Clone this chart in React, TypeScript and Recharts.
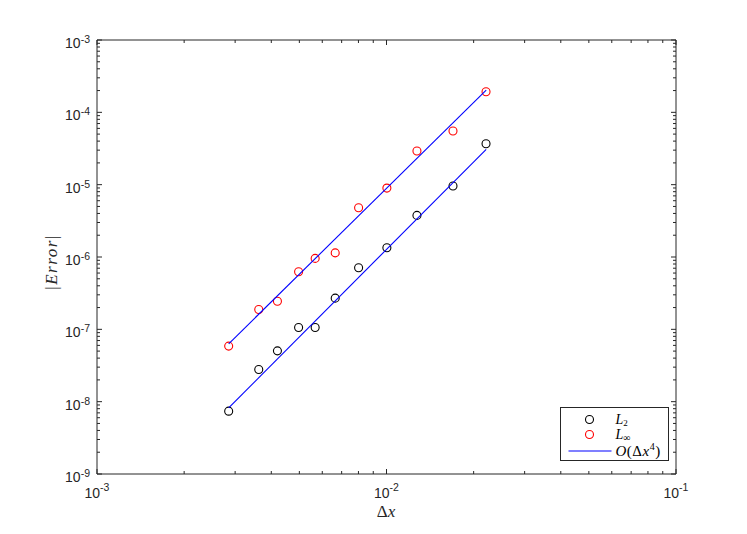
import { ScatterChart, Scatter, XAxis, YAxis } from 'recharts'

document.body.style.margin = '0'

// grid spacing and measured errors
const dx = [0.00285, 0.00362, 0.0042, 0.00497, 0.00567, 0.00665, 0.00801, 0.01003, 0.01274, 0.01697, 0.02207]
const errL2 = [7.39e-9, 2.79e-8, 5.04e-8, 1.06e-7, 1.06e-7, 2.7e-7, 7.09e-7, 1.34e-6, 3.76e-6, 9.57e-6, 3.68e-5]
const errLinf = [5.86e-8, 1.88e-7, 2.45e-7, 6.24e-7, 9.57e-7, 1.14e-6, 4.79e-6, 8.97e-6, 2.92e-5, 5.51e-5, 1.93e-4]

// O(dx^4) reference lines, end points
const fitDx = [0.00285, 0.0221]
const fitL2 = [8.2e-9, 3.08e-5]
const fitLinf = [6.3e-8, 2.03e-4]

const xMajor = [1e-3, 1e-2, 1e-1]
const xMajorLabels = ['-3', '-2', '-1']
const yMajor = [1e-9, 1e-8, 1e-7, 1e-6, 1e-5, 1e-4, 1e-3]
const yMajorLabels = ['-9', '-8', '-7', '-6', '-5', '-4', '-3']
const minorMult = [2, 3, 4, 5, 6, 7, 8, 9]

const AX = '#262626'
const FONT = '"Liberation Sans", Arial, Helvetica, sans-serif'
const SERIF = '"Liberation Serif", "Times New Roman", serif'

const withMinor = (majors: number[]) => {
  const out: number[] = []
  majors.forEach((m, i) => {
    out.push(m)
    if (i < majors.length - 1) minorMult.forEach((k) => out.push(m * k))
  })
  return out
}
const xTicks = withMinor(xMajor)
const yTicks = withMinor(yMajor)

const l2Data = dx.map((x, i) => ({ x, y: errL2[i] }))
const linfData = dx.map((x, i) => ({ x, y: errLinf[i] }))
const fitL2Data = fitDx.map((x, i) => ({ x, y: fitL2[i] }))
const fitLinfData = fitDx.map((x, i) => ({ x, y: fitLinf[i] }))

const labelOf = (v: number, majors: number[], labels: string[]) => {
  const i = majors.findIndex((m) => Math.abs(v / m - 1) < 1e-6)
  return i < 0 ? null : labels[i]
}

function AxisTick(props: any) {
  const { x, y, payload, side } = props
  const v = payload.value
  const horiz = side === 'bottom' || side === 'top'
  const lab = horiz ? labelOf(v, xMajor, xMajorLabels) : labelOf(v, yMajor, yMajorLabels)
  const len = lab ? 5 : 3
  let line
  if (side === 'left') line = <line x1={x} y1={y} x2={x + len} y2={y} stroke={AX} />
  else if (side === 'right') line = <line x1={x} y1={y} x2={x - len} y2={y} stroke={AX} />
  else if (side === 'bottom') line = <line x1={x} y1={y} x2={x} y2={y - len} stroke={AX} />
  else line = <line x1={x} y1={y} x2={x} y2={y + len} stroke={AX} />
  return (
    <g>
      {line}
      {lab && side === 'left' && (
        <text x={x - 7} y={y + 8} textAnchor="end" fill={AX} fontFamily={FONT} fontSize={14}>
          10<tspan fontSize={10.5} dy={-5}>{lab}</tspan>
        </text>
      )}
      {lab && side === 'bottom' && (
        <text x={x} y={y + 24} textAnchor="middle" fill={AX} fontFamily={FONT} fontSize={14}>
          10<tspan fontSize={10.5} dy={-7}>{lab}</tspan>
        </text>
      )}
    </g>
  )
}

const ring = (color: string) => (p: any) => (
  <circle cx={p.cx} cy={p.cy} r={4} fill="none" stroke={color} strokeWidth={1.1} />
)

export default function App() {
  return (
    <div style={{ position: 'relative', width: 747, height: 534, background: '#fff' }}>
      <ScatterChart width={747} height={534} margin={{ top: 39, right: 70, bottom: 0, left: 0 }}>
        <XAxis
          dataKey="x"
          type="number"
          scale="log"
          domain={[1e-3, 1e-1]}
          allowDataOverflow
          ticks={xTicks}
          interval={0}
          height={60}
          tickSize={0}
          tickMargin={0}
          tickLine={false}
          axisLine={{ stroke: AX }}
          tick={(p: any) => <AxisTick {...p} side="bottom" />}
        />
        <XAxis
          xAxisId="top"
          orientation="top"
          dataKey="x"
          type="number"
          scale="log"
          domain={[1e-3, 1e-1]}
          allowDataOverflow
          ticks={xTicks}
          interval={0}
          height={1}
          tickSize={0}
          tickMargin={0}
          tickLine={false}
          axisLine={{ stroke: AX }}
          tick={(p: any) => <AxisTick {...p} side="top" />}
        />
        <YAxis
          dataKey="y"
          type="number"
          scale="log"
          domain={[1e-9, 1e-3]}
          allowDataOverflow
          ticks={yTicks}
          interval={0}
          width={97}
          tickSize={0}
          tickMargin={0}
          tickLine={false}
          axisLine={{ stroke: AX }}
          tick={(p: any) => <AxisTick {...p} side="left" />}
        />
        <YAxis
          yAxisId="right"
          orientation="right"
          dataKey="y"
          type="number"
          scale="log"
          domain={[1e-9, 1e-3]}
          allowDataOverflow
          ticks={yTicks}
          interval={0}
          width={1}
          tickSize={0}
          tickMargin={0}
          tickLine={false}
          axisLine={{ stroke: AX }}
          tick={(p: any) => <AxisTick {...p} side="right" />}
        />
        <Scatter data={l2Data} shape={ring('#000000')} isAnimationActive={false} />
        <Scatter data={linfData} shape={ring('#ff0000')} isAnimationActive={false} />
        <Scatter
          data={fitL2Data}
          line={{ stroke: '#0000ff', strokeWidth: 1.1 }}
          shape={() => <g />}
          isAnimationActive={false}
        />
        <Scatter
          data={fitLinfData}
          line={{ stroke: '#0000ff', strokeWidth: 1.1 }}
          shape={() => <g />}
          isAnimationActive={false}
        />
      </ScatterChart>

      {/* axis titles */}
      <svg width={747} height={534} style={{ position: 'absolute', left: 0, top: 0, pointerEvents: 'none' }}>
        <text x={386} y={517} textAnchor="middle" fill={AX} fontFamily={SERIF} fontSize={17}>
          Δ<tspan fontStyle="italic">x</tspan>
        </text>
        <text
          x={51}
          y={262}
          transform="rotate(-90 51 262)"
          textAnchor="middle"
          dominantBaseline="central"
          fill={AX}
          fontFamily={SERIF}
          fontSize={17}
          letterSpacing={1.5}
        >
          |<tspan fontStyle="italic">Error</tspan>|
        </text>

        {/* legend */}
        <g transform="translate(560.5 407.5)">
          <rect x={0} y={0} width={108} height={53} fill="#fff" stroke={AX} strokeWidth={1} />
          <circle cx={29} cy={12} r={4} fill="none" stroke="#000" strokeWidth={1.1} />
          <circle cx={29} cy={27} r={4} fill="none" stroke="#ff0000" strokeWidth={1.1} />
          <line x1={8} x2={51} y1={43.5} y2={43.5} stroke="#0000ff" strokeWidth={1.1} />
          <text x={55} y={16} fill="#000" fontFamily={SERIF} fontSize={14}>
            <tspan fontStyle="italic">L</tspan>
            <tspan fontSize={9} dy={2}>2</tspan>
          </text>
          <text x={55} y={31} fill="#000" fontFamily={SERIF} fontSize={14}>
            <tspan fontStyle="italic">L</tspan>
            <tspan fontSize={10} dy={2}>∞</tspan>
          </text>
          <text x={55} y={48} fill="#000" fontFamily={SERIF} fontSize={15} letterSpacing={0.5}>
            <tspan fontStyle="italic">O</tspan>(Δ<tspan fontStyle="italic">x</tspan>
            <tspan fontSize={10} dy={-6}>4</tspan>
            <tspan dy={6}>)</tspan>
          </text>
        </g>
      </svg>
    </div>
  )
}
